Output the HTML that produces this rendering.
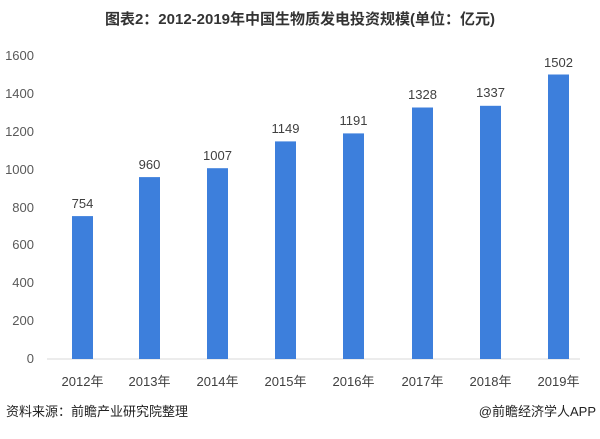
<!DOCTYPE html>
<html><head><meta charset="utf-8"><style>
body{margin:0;width:600px;height:434px;background:#fff;overflow:hidden}
svg{font-family:"Liberation Sans","Noto Sans CJK SC",sans-serif}
</style></head><body>
<svg width="600" height="434" viewBox="0 0 600 434">
<text x="300" y="24" text-anchor="middle" font-size="15" font-weight="bold" fill="#333">图表2：2012-2019年中国生物质发电投资规模(单位：亿元)</text>
<g font-size="13" fill="#595959" text-anchor="end">
<text x="34" y="363">0</text><text x="34" y="325">200</text><text x="34" y="287">400</text><text x="34" y="249">600</text><text x="34" y="212">800</text><text x="34" y="174">1000</text><text x="34" y="136">1200</text><text x="34" y="98">1400</text><text x="34" y="60">1600</text>
</g>
<line x1="47" y1="359" x2="580" y2="359" stroke="#d9d9d9" stroke-width="1"/>
<g fill="#3d7fdc">
<rect x="72" y="216.1" width="21" height="142.9"/>
<rect x="139" y="177.1" width="21" height="181.9"/>
<rect x="207" y="168.2" width="21" height="190.8"/>
<rect x="275" y="141.4" width="21" height="217.6"/>
<rect x="343" y="133.4" width="21" height="225.6"/>
<rect x="412" y="107.5" width="21" height="251.5"/>
<rect x="480" y="105.8" width="21" height="253.2"/>
<rect x="548" y="74.5" width="21" height="284.5"/>
</g>
<g font-size="13" fill="#404040" text-anchor="middle">
<text x="82.5" y="208">754</text><text x="149.5" y="169">960</text><text x="217.5" y="160">1007</text><text x="285.5" y="133">1149</text><text x="353.5" y="125">1191</text><text x="422.5" y="99">1328</text><text x="490.5" y="97">1337</text><text x="558.5" y="67">1502</text>
</g>
<g font-size="13" fill="#404040" text-anchor="middle">
<text x="82.5" y="386">2012年</text><text x="149.5" y="386">2013年</text><text x="217.5" y="386">2014年</text><text x="285.5" y="386">2015年</text><text x="353.5" y="386">2016年</text><text x="422.5" y="386">2017年</text><text x="490.5" y="386">2018年</text><text x="558.5" y="386">2019年</text>
</g>
<text x="6" y="416" font-size="13" fill="#222">资料来源：前瞻产业研究院整理</text>
<text x="596" y="416" font-size="13" fill="#222" text-anchor="end">@前瞻经济学人APP</text>
</svg>
</body></html>
